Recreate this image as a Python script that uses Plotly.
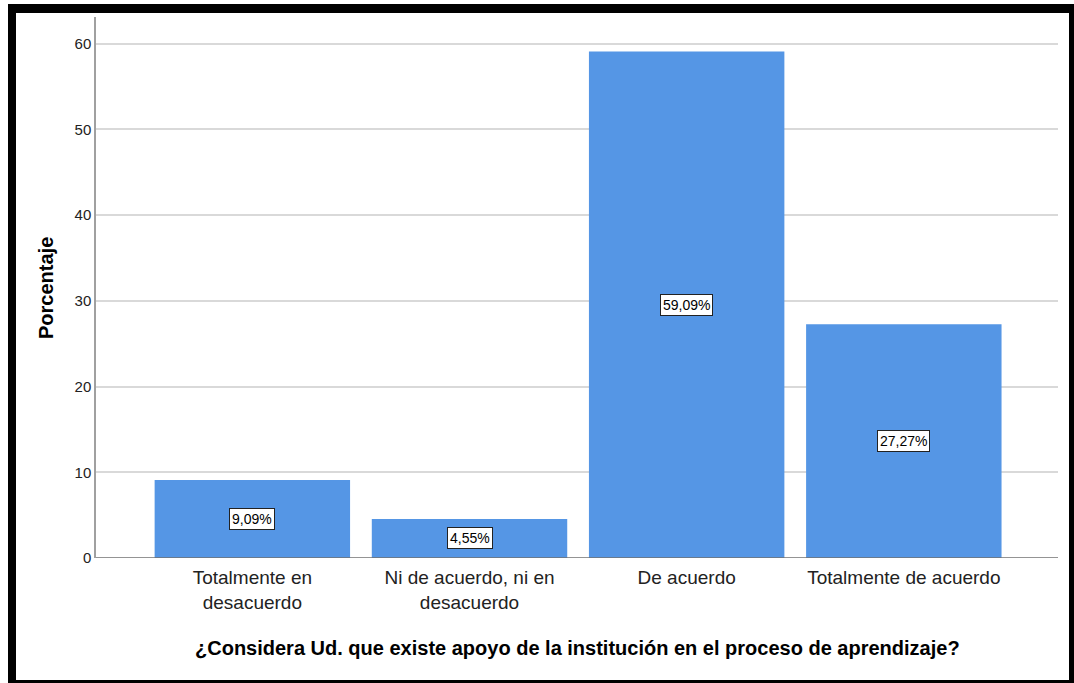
import plotly.graph_objects as go

categories = ["Totalmente en<br>desacuerdo", "Ni de acuerdo, ni en<br>desacuerdo", "De acuerdo", "Totalmente de acuerdo"]
values = [9.09, 4.55, 59.09, 27.27]
labels = ["9,09%", "4,55%", "59,09%", "27,27%"]
y_ticks = [0, 10, 20, 30, 40, 50, 60]
x_title = "¿Considera Ud. que existe apoyo de la institución en el proceso de aprendizaje?"
y_title = "Porcentaje"

W, H = 1074, 683
L, R, T, B = 96, 16, 17, 125
pw, ph = W - L - R, H - T - B

def px(x):
    return (x - L) / pw

def py(y):
    return (H - B - y) / ph

FONT = "Liberation Sans, Arial"

fig = go.Figure()
fig.add_trace(go.Bar(x=list(range(len(categories))), y=values,
                     marker=dict(color="#5596e5", line=dict(width=0)),
                     hoverinfo="skip"))

ann = []
for i, (v, t) in enumerate(zip(values, labels)):
    ann.append(dict(x=i, y=v / 2, xref="x", yref="y", text=t, showarrow=False,
                    font=dict(family=FONT, size=14, color="black"),
                    bgcolor="white", bordercolor="#222222", borderwidth=1, borderpad=2))
ann.append(dict(x=px(577), y=py(648), xref="paper", yref="paper", text="<b>" + x_title + "</b>",
                showarrow=False, font=dict(family=FONT, size=20, color="black"),
                xanchor="center", yanchor="middle"))
ann.append(dict(x=px(46), y=py(288), xref="paper", yref="paper", text="<b>" + y_title + "</b>",
                showarrow=False, textangle=-90, font=dict(family=FONT, size=20, color="black"),
                xanchor="center", yanchor="middle"))

shapes = []
# outer black frame
for (x0, y0, x1, y1) in [(8, 4, 16, 683), (8, 4, 1074, 13), (1069, 4, 1074, 683), (8, 680, 1074, 683)]:
    shapes.append(dict(type="rect", xref="paper", yref="paper", x0=px(x0), x1=px(x1), y0=py(y0), y1=py(y1),
                       fillcolor="black", line=dict(width=0), layer="above"))
# x baseline
shapes.append(dict(type="line", xref="paper", yref="y", x0=0, x1=1, y0=0, y1=0,
                   line=dict(color="#707070", width=1.5), layer="above"))

fig.update_layout(
    width=W, height=H,
    margin=dict(l=L, r=R, t=T, b=B),
    paper_bgcolor="white", plot_bgcolor="white",
    bargap=0.1, showlegend=False,
    annotations=ann, shapes=shapes,
    xaxis=dict(tickmode="array", tickvals=list(range(len(categories))), ticktext=categories,
               range=[-0.72, 3.71], showgrid=False, zeroline=False, showline=False,
               tickfont=dict(family=FONT, size=19, color="#222222"),
               ticks="", ticklabelstandoff=6, fixedrange=True),
    yaxis=dict(range=[0, 63.1], tickvals=y_ticks, showgrid=True, gridcolor="#d9d9d9", gridwidth=1.5,
               zeroline=False, showline=True, linecolor="#a0a0a0", linewidth=1.5,
               tickfont=dict(family=FONT, size=15, color="#222222"),
               ticks="", ticklen=0, fixedrange=True),
    font=dict(family=FONT),
)

fig.write_html("out.html", config={"displayModeBar": False},
               post_script="document.body.style.margin='0';document.body.style.overflow='hidden';")
